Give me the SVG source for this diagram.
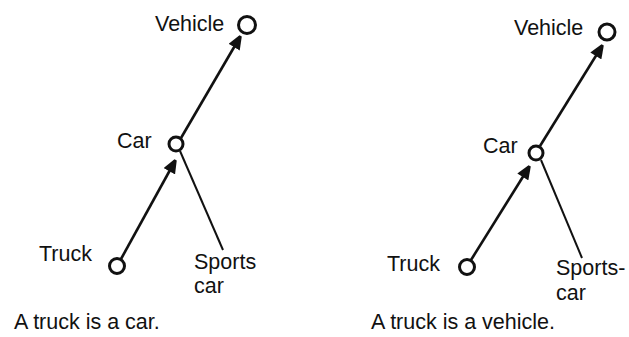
<svg xmlns="http://www.w3.org/2000/svg" width="629" height="337" viewBox="0 0 629 337">
<style>
text{font-family:"Liberation Sans",Arial,sans-serif;font-size:21.5px;fill:#111}
.node{fill:#fff;stroke:#111;stroke-width:3}
.edge{stroke:#111;stroke-width:2.6;fill:none}
.plain{stroke:#111;stroke-width:2;fill:none}
</style>
<defs>
<marker id="ah" viewBox="0 0 10 10" refX="9" refY="5" markerWidth="5.2" markerHeight="5" orient="auto" markerUnits="strokeWidth">
<path d="M0,0 L10,4 L10,6 L0,10 z" fill="#111"/>
</marker>
</defs>
<rect width="629" height="337" fill="#fff"/>
<g id="connectors">
<line class="edge" x1="181" y1="138" x2="240" y2="37" marker-end="url(#ah)"/>
<line class="edge" x1="121" y1="259" x2="175" y2="161" marker-end="url(#ah)"/>
<line class="plain" x1="180" y1="151" x2="223" y2="250"/>
<line class="edge" x1="540" y1="146" x2="602" y2="46" marker-end="url(#ah)"/>
<line class="edge" x1="471" y1="260" x2="529" y2="167" marker-end="url(#ah)"/>
<line class="plain" x1="541" y1="160" x2="582" y2="258"/>
</g>
<g id="vehicle1"><circle class="node" cx="247" cy="25" r="8.5"/><text x="155" y="31">Vehicle</text></g>
<g id="car1"><circle class="node" cx="176" cy="144" r="7"/><text x="117" y="148">Car</text></g>
<g id="truck1"><circle class="node" cx="117" cy="266" r="7.5"/><text x="39" y="261">Truck</text></g>
<g id="sports1"><text x="194" y="269">Sports</text><text x="194" y="293">car</text></g>
<text x="14" y="329">A truck is a car.</text>
<g id="vehicle2"><circle class="node" cx="607" cy="32" r="8"/><text x="514" y="35">Vehicle</text></g>
<g id="car2"><circle class="node" cx="536" cy="153" r="7"/><text x="483" y="153">Car</text></g>
<g id="truck2"><circle class="node" cx="467" cy="267" r="7.5"/><text x="387" y="271">Truck</text></g>
<g id="sports2"><text x="556" y="275">Sports-</text><text x="556" y="300">car</text></g>
<text x="371" y="329">A truck is a vehicle.</text>
</svg>
